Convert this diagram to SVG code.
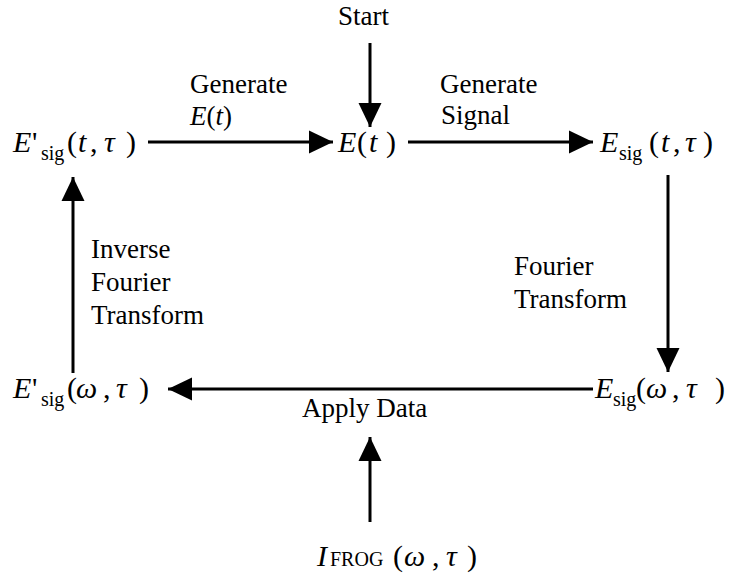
<svg xmlns="http://www.w3.org/2000/svg" width="729" height="574" viewBox="0 0 729 574">
<style>
text{font-family:'Liberation Serif','Times New Roman',serif;fill:#000}
.lbl{font-size:27px}
.m{font-size:30px}
.i{font-style:italic}
.sub{font-size:20px}
.sc{font-size:20px}
.c{stroke:#000;stroke-width:3;fill:none;marker-end:url(#ah)}
</style>
<defs>
<marker id="ah" markerUnits="userSpaceOnUse" markerWidth="24" markerHeight="24" refX="24" refY="12" orient="auto" viewBox="0 0 24 24">
<path d="M0,0.5 L24,12 L0,23.5 z" fill="#000"/>
</marker>
</defs>
<rect width="729" height="574" fill="#fff"/>
<g id="connectors">
<line class="c" x1="370" y1="43" x2="370" y2="127"/>
<line class="c" x1="148" y1="142" x2="333" y2="142"/>
<line class="c" x1="408" y1="142" x2="593" y2="142"/>
<line class="c" x1="668" y1="175" x2="668" y2="372"/>
<line class="c" x1="593" y1="389" x2="168" y2="389"/>
<line class="c" x1="73" y1="373" x2="73" y2="177"/>
<line class="c" x1="370" y1="522" x2="370" y2="437"/>
</g>
<g id="edge-labels">
<text class="lbl" x="190" y="93">Generate</text>
<text class="lbl i" x="190" y="125">E<tspan font-style="normal">(</tspan>t<tspan font-style="normal">)</tspan></text>
<text class="lbl" x="440" y="93">Generate</text>
<text class="lbl" x="441" y="124">Signal</text>
<text class="lbl" x="91" y="258">Inverse</text>
<text class="lbl" x="91" y="291">Fourier</text>
<text class="lbl" x="91" y="324">Transform</text>
<text class="lbl" x="514" y="275">Fourier</text>
<text class="lbl" x="514" y="308">Transform</text>
<text class="lbl" x="302" y="417">Apply Data</text>
</g>
<g id="start">
<text class="lbl" x="338" y="25">Start</text>
</g>
<g id="E-t">
<text class="m i" x="338" y="152">E</text>
<text class="m" x="357" y="152">(</text>
<text class="m i" x="369" y="152">t</text>
<text class="m" x="386" y="152">)</text>
</g>
<g id="Eprime-sig-t-tau">
<text class="m i" x="13" y="152">E</text>
<text class="m" x="32" y="152">'</text>
<text class="sub" x="41" y="160">sig</text>
<text class="m" x="67" y="152">(</text>
<text class="m i" x="78" y="152">t</text>
<text class="m" x="90" y="152">,</text>
<text class="m i" x="104" y="152">τ</text>
<text class="m" x="126" y="152">)</text>
</g>
<g id="E-sig-t-tau">
<text class="m i" x="600" y="152">E</text>
<text class="sub" x="619" y="160">sig</text>
<text class="m" x="649" y="152">(</text>
<text class="m i" x="661" y="152">t</text>
<text class="m" x="673" y="152">,</text>
<text class="m i" x="685" y="152">τ</text>
<text class="m" x="703" y="152">)</text>
</g>
<g id="E-sig-omega-tau">
<text class="m i" x="595" y="398">E</text>
<text class="sub" x="613" y="406">sig</text>
<text class="m" x="636" y="398">(</text>
<text class="m i" x="646" y="398">ω</text>
<text class="m" x="672" y="398">,</text>
<text class="m i" x="686" y="398">τ</text>
<text class="m" x="715" y="398">)</text>
</g>
<g id="Eprime-sig-omega-tau">
<text class="m i" x="13" y="398">E</text>
<text class="m" x="32" y="398">'</text>
<text class="sub" x="41" y="406">sig</text>
<text class="m" x="67" y="398">(</text>
<text class="m i" x="76" y="398">ω</text>
<text class="m" x="103" y="398">,</text>
<text class="m i" x="116" y="398">τ</text>
<text class="m" x="139" y="398">)</text>
</g>
<g id="I-frog">
<text class="m i" x="317" y="566">I</text>
<text class="sc" x="330" y="566">FROG</text>
<text class="m" x="393" y="566">(</text>
<text class="m i" x="404" y="566">ω</text>
<text class="m" x="432" y="566">,</text>
<text class="m i" x="446" y="566">τ</text>
<text class="m" x="467" y="566">)</text>
</g>
</svg>
